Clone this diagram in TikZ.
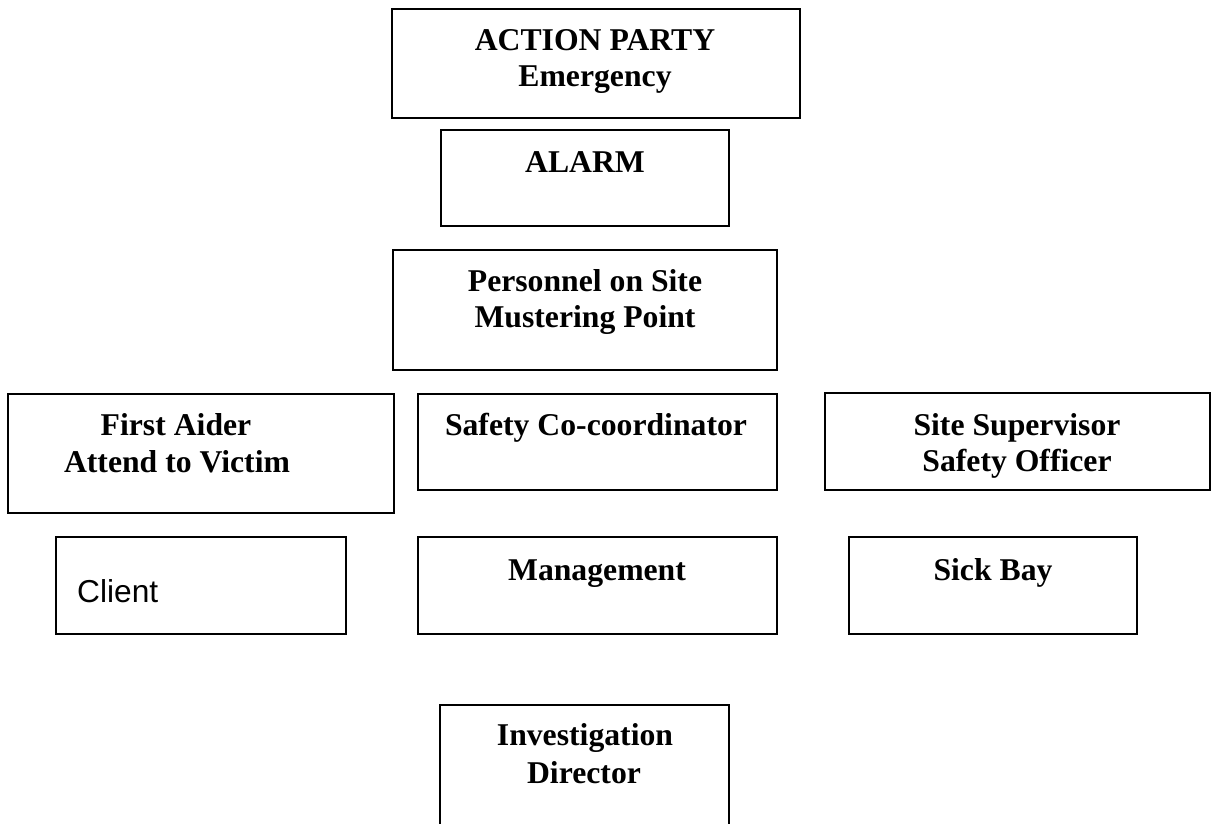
\documentclass[tikz,border=0pt]{standalone}
\usepackage{fontspec}
\setmainfont{Liberation Serif}
\newfontfamily\arialfont{Liberation Sans}
\begin{document}
\begin{tikzpicture}[x=1pt,y=-1pt,
  box/.style={draw=black, line width=2.3pt, rectangle, inner sep=0pt, outer sep=0pt, anchor=north west},
  lbl/.style={anchor=base, inner sep=0pt, font=\fontsize{31.7}{36.8}\selectfont\bfseries},
  sanslbl/.style={anchor=base west, inner sep=0pt, font=\fontsize{31.7}{36.8}\selectfont\arialfont}]
\useasboundingbox (0,0) rectangle (1213,823);
\clip (0,0) rectangle (1213,823);
% boxes
\node[box, minimum width=408pt, minimum height=109pt] (apbox) at (392,9) {};
\node[box, minimum width=288pt, minimum height=96pt] (alarmbox) at (441,130) {};
\node[box, minimum width=384pt, minimum height=120pt] (persbox) at (393,250) {};
\node[box, minimum width=386pt, minimum height=119pt] (fabox) at (8,394) {};
\node[box, minimum width=359pt, minimum height=96pt] (scbox) at (418,394) {};
\node[box, minimum width=385pt, minimum height=97pt] (ssbox) at (825,393) {};
\node[box, minimum width=290pt, minimum height=97pt] (clientbox) at (56,537) {};
\node[box, minimum width=359pt, minimum height=97pt] (mgmtbox) at (418,537) {};
\node[box, minimum width=288pt, minimum height=97pt] (sickbox) at (849,537) {};
\node[box, minimum width=289pt, minimum height=140pt] (invbox) at (440,705) {};
% labels
\node[lbl] (ap1) at (595,50) {ACTION PARTY};
\node[lbl] (ap2) at (595,86) {Emergency};
\node[lbl] (alarm1) at (585,172) {ALARM};
\node[lbl] (pers1) at (585,291) {Personnel on Site};
\node[lbl] (pers2) at (585,327) {Mustering Point};
\node[lbl] (fa1) at (176,435) {First Aider};
\node[lbl] (fa2) at (177,472) {Attend to Victim};
\node[lbl] (sc1) at (596,435) {Safety Co-coordinator};
\node[lbl] (ss1) at (1017,435) {Site Supervisor};
\node[lbl] (ss2) at (1017,471) {Safety Officer};
\node[sanslbl] (client1) at (77,602) {Client};
\node[lbl] (mgmt1) at (597,580) {Management};
\node[lbl] (sick1) at (993,580) {Sick Bay};
\node[lbl] (inv1) at (585,745) {Investigation};
\node[lbl] (inv2) at (584,783) {Director};
\end{tikzpicture}
\end{document}
